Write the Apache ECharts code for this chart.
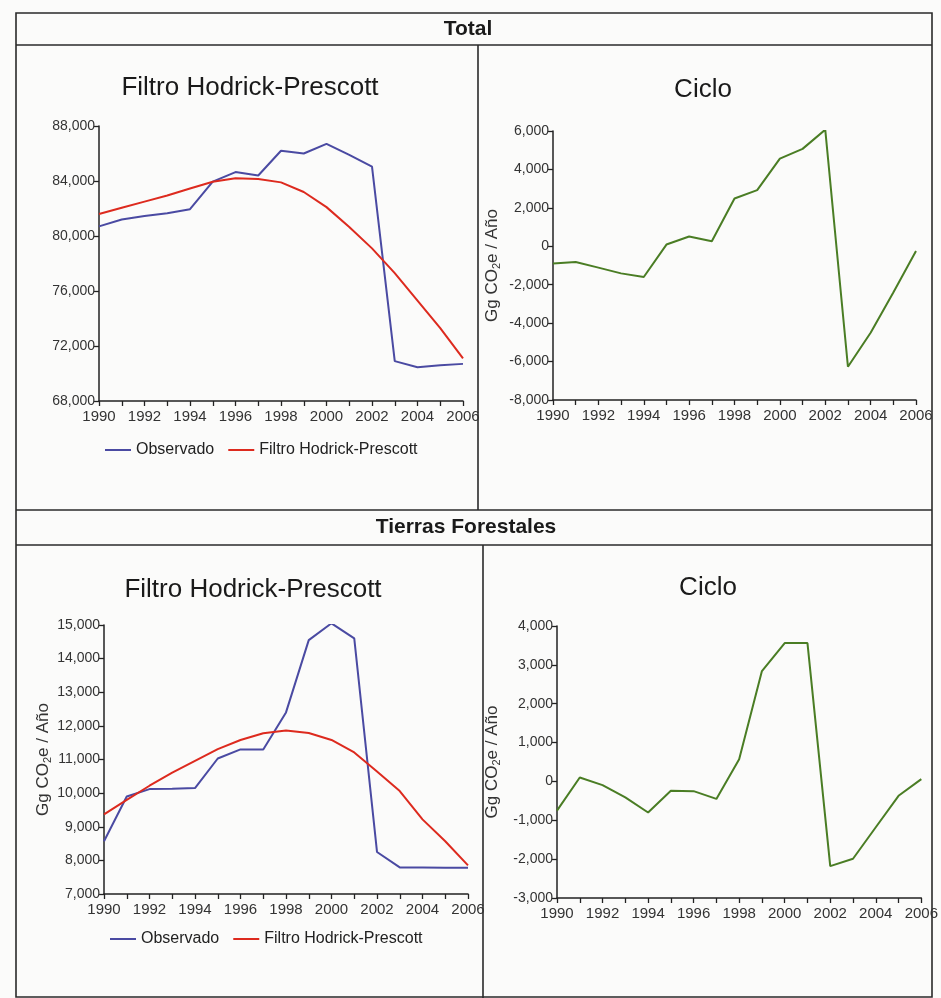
<!DOCTYPE html>
<html>
<head>
<meta charset="utf-8">
<script src="https://cdn.jsdelivr.net/npm/echarts@6/dist/echarts.min.js"></script>
<style>
html,body{margin:0;padding:0;background:#fbfbfa;}
#c{width:941px;height:998px;}
</style>
</head>
<body>
<div id="c"></div>
<script>
// ---- data ----
const years = ['1990','1991','1992','1993','1994','1995','1996','1997','1998','1999','2000','2001','2002','2003','2004','2005','2006'];
const totalObs   = [80700, 81200, 81450, 81650, 81950, 83950, 84650, 84400, 86200, 86000, 86700, 85900, 85050, 70900, 70450, 70600, 70700];
const totalHP    = [81600, 82050, 82500, 82950, 83450, 83950, 84200, 84150, 83900, 83200, 82100, 80650, 79100, 77300, 75300, 73300, 71100];
const totalCycle = [-890, -820, -1110, -1410, -1600, 90, 510, 260, 2490, 2920, 4560, 5070, 6070, -6270, -4500, -2400, -250];
const forestObs   = [8570, 9900, 10120, 10130, 10150, 11030, 11300, 11300, 12400, 14550, 15050, 14600, 8250, 7790, 7790, 7780, 7780];
const forestHP    = [9370, 9800, 10220, 10610, 10960, 11310, 11580, 11780, 11860, 11790, 11580, 11210, 10640, 10060, 9220, 8570, 7850];
const forestCycle = [-750, 100, -95, -410, -800, -240, -250, -450, 570, 2840, 3560, 3560, -2180, -1990, -1180, -370, 60];
const seriesNames = ['Observado', 'Filtro Hodrick-Prescott'];
const sectionTitles = ['Total', 'Tierras Forestales'];
const panelTitles = ['Filtro Hodrick-Prescott', 'Ciclo'];
const yName = 'Gg CO{s|2}e / Año';

// ---- style ----
const SANS = '"Liberation Sans",Arial,sans-serif';
const BLUE = '#4a4aa2', RED = '#dd2a1e', GREEN = '#4a7d24', INK = '#222';

const fmt = v => (v < 0 ? '-' : '') + Math.abs(v).toString().replace(/\B(?=(\d{3})+(?!\d))/g, ',');

const grids = [
  {left: 99, top: 126, width: 364, height: 275},
  {left: 553, top: 131, width: 363, height: 269},
  {left: 104, top: 625, width: 364, height: 269},
  {left: 557, top: 626, width: 365, height: 272}
];
const yRanges = [[68000, 88000, 4000], [-8000, 6000, 2000], [7000, 15000, 1000], [-3000, 4000, 1000]];
const yNames = [null, yName, yName, yName];
const yNameGaps = [0, 52, 48, 56];

const xAxes = grids.map((g, i) => ({
  type: 'category', gridIndex: i, data: years, boundaryGap: false,
  axisLine: {onZero: false, lineStyle: {color: INK, width: 1.5}},
  axisTick: {interval: 0, length: 5, lineStyle: {color: INK, width: 1.3}},
  axisLabel: {interval: 1, color: '#333', fontFamily: SANS, fontSize: 15, margin: 8},
  splitLine: {show: false}
}));
const yAxes = grids.map((g, i) => ({
  type: 'value', gridIndex: i, min: yRanges[i][0], max: yRanges[i][1], interval: yRanges[i][2],
  axisLine: {show: true, onZero: false, lineStyle: {color: INK, width: 1.5}},
  axisTick: {show: true, length: 5, lineStyle: {color: INK, width: 1.3}},
  axisLabel: {color: '#333', fontFamily: SANS, fontSize: 14, margin: 4, formatter: fmt},
  splitLine: {show: false},
  name: yNames[i] || '', nameLocation: 'middle', nameRotate: 90, nameGap: yNameGaps[i],
  nameTextStyle: {color: '#333', fontFamily: SANS, fontSize: 17,
    rich: {s: {fontSize: 11, fontFamily: SANS, color: '#333', padding: [0, 0, -8, 0]}}}
}));

const lineS = (name, data, idx, color) => ({
  name, type: 'line', data, xAxisIndex: idx, yAxisIndex: idx, symbol: 'none',
  lineStyle: {color, width: 2}, itemStyle: {color}, smooth: false, animation: false
});

const hl = (x1, y1, x2, y2) => ({type: 'line', shape: {x1, y1, x2, y2}, style: {stroke: '#2a2a2a', lineWidth: 1.6}});
const txt = (text, x, y, size, bold) => ({type: 'text', style: {text, x, y, textAlign: 'center', textVerticalAlign: 'middle',
  font: (bold ? 'bold ' : '') + size + 'px ' + SANS, fill: '#1a1a1a'}});

const option = {
  backgroundColor: '#fbfbfa',
  animation: false,
  grid: grids,
  xAxis: xAxes,
  yAxis: yAxes,
  legend: [
    {left: 100, top: 437, itemWidth: 26, itemHeight: 2, icon: 'rect', itemGap: 14,
     textStyle: {fontFamily: SANS, fontSize: 16, color: '#222'},
     data: seriesNames, selectedMode: false},
    {left: 105, top: 926, itemWidth: 26, itemHeight: 2, icon: 'rect', itemGap: 14,
     textStyle: {fontFamily: SANS, fontSize: 16, color: '#222'},
     data: seriesNames, selectedMode: false}
  ],
  series: [
    lineS(seriesNames[0], totalObs, 0, BLUE),
    lineS(seriesNames[1], totalHP, 0, RED),
    lineS('Ciclo', totalCycle, 1, GREEN),
    lineS(seriesNames[0], forestObs, 2, BLUE),
    lineS(seriesNames[1], forestHP, 2, RED),
    lineS('Ciclo ', forestCycle, 3, GREEN)
  ],
  graphic: [
    {type: 'rect', shape: {x: 16, y: 13, width: 916, height: 984}, style: {fill: 'none', stroke: '#2a2a2a', lineWidth: 1.6}},
    hl(16, 45, 932, 45),
    hl(478, 45, 478, 510),
    hl(16, 510, 932, 510),
    hl(16, 545, 932, 545),
    hl(483, 545, 483, 998),
    txt(sectionTitles[0], 468, 29, 21, true),
    txt(sectionTitles[1], 466, 527, 21, true),
    txt(panelTitles[0], 250, 88, 26, false),
    txt(panelTitles[1], 703, 90, 26, false),
    txt(panelTitles[0], 253, 590, 26, false),
    txt(panelTitles[1], 708, 588, 26, false)
  ]
};

const chart = echarts.init(document.getElementById('c'), null, {renderer: 'canvas'});
chart.setOption(option);
</script>
</body>
</html>
